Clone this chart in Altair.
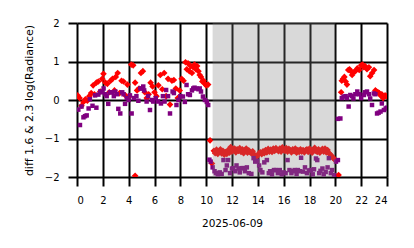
import altair as alt
import pandas as pd

# ---- data ----
red_t = [0.05, 0.2, 0.35, 0.5, 0.65, 0.8, 0.95, 1.1, 1.25, 1.35, 1.5, 1.65, 1.8, 1.95, 2.05, 2.2,
         2.35, 2.5, 2.6, 2.75, 2.9, 3.0, 3.15, 3.3, 3.45, 3.6, 3.75, 3.9, 4.05, 4.2, 4.35, 4.5,
         4.65, 4.8, 4.95, 5.1, 5.25, 5.4, 5.55, 5.7, 5.85, 6.0, 6.15, 6.3, 6.45, 6.6, 6.75, 6.9,
         7.05, 7.2, 7.35, 7.5, 7.65, 7.8, 7.95, 8.1, 8.25, 8.4, 8.5, 8.6, 8.7, 8.8, 8.9, 9.0,
         9.1, 9.2, 9.3, 9.4, 9.5, 9.6, 9.7, 9.8, 9.9, 10.0, 10.15,
         4.5, 10.3, 10.45,
         10.6, 10.7, 10.8, 10.9, 11.0, 11.1, 11.2, 11.3, 11.4, 11.5,
         11.6, 11.7, 11.8, 11.9, 12.0, 12.1, 12.2, 12.3, 12.4, 12.5,
         12.6, 12.7, 12.8, 12.9, 13.0, 13.1, 13.2, 13.3, 13.4, 13.5,
         13.6, 13.7, 13.8, 13.9, 14.0, 14.1, 14.2, 14.3, 14.4, 14.5,
         14.6, 14.7, 14.8, 14.9, 15.0, 15.1, 15.2, 15.3, 15.4, 15.5,
         15.6, 15.7, 15.8, 15.9, 16.0, 16.1, 16.2, 16.3, 16.4, 16.5,
         16.6, 16.7, 16.8, 16.9, 17.0, 17.1, 17.2, 17.3, 17.4, 17.5,
         17.6, 17.7, 17.8, 17.9, 18.0, 18.1, 18.2, 18.3, 18.4, 18.5,
         18.6, 18.7, 18.8, 18.9, 19.0, 19.1, 19.2, 19.3, 19.4, 19.5,
         19.6, 19.7, 19.8, 19.9, 20.0,
         20.25,
         20.45, 20.5, 20.6, 20.7, 20.8, 20.9, 21.0, 21.1, 21.2, 21.3, 21.4, 21.55, 21.7, 21.85,
         22.0, 22.1, 22.2, 22.3, 22.45, 22.6, 22.7, 22.85, 23.0, 23.1, 23.2, 23.3, 23.4, 23.5,
         23.6, 23.7, 23.85, 23.95]
red_v = [0.12, 0.05, -0.15, -0.05, 0.02, -0.02, 0.1, 0.18, 0.38, 0.15, 0.45, 0.48, 0.22, 0.55, 0.68, 0.45,
         0.42, 0.2, 0.5, 0.55, 0.25, 0.6, 0.7, 0.18, 0.5, 0.48, 0.12, 0.4, 0.1, 0.92, 0.9, 0.45,
         0.25, 0.3, 0.7, 0.75, 0.2, 0.05, 0.15, 0.45, 0.35, 0.2, 0.1, 0.38, 0.65, 0.28, 0.7, 0.1,
         0.55, -0.12, 0.5, 0.52, 0.3, 0.05, 0.25, 0.55, 0.5, 0.98, 0.8, 0.95, 0.75, 0.88, 0.7, 0.85,
         0.92, 0.8, 0.88, 0.75, 0.65, 0.6, 0.48, 0.5, 0.42, 0.38, 0.4,
         -1.97, -1.05, -1.65,
         -1.32, -1.38, -1.29, -1.40, -1.34, -1.28, -1.39, -1.32, -1.42, -1.35,
         -1.40, -1.30, -1.37, -1.22, -1.34, -1.29, -1.26, -1.36, -1.28, -1.32,
         -1.25, -1.35, -1.28, -1.38, -1.30, -1.26, -1.37, -1.31, -1.35, -1.39,
         -1.33, -1.41, -1.45, -1.48, -1.43, -1.38, -1.36, -1.41, -1.33, -1.38,
         -1.30, -1.36, -1.27, -1.34, -1.29, -1.35, -1.26, -1.32, -1.25, -1.30,
         -1.33, -1.26, -1.34, -1.23, -1.29, -1.32, -1.25, -1.34, -1.27, -1.30,
         -1.36, -1.28, -1.33, -1.26, -1.37, -1.30, -1.35, -1.28, -1.34, -1.30,
         -1.36, -1.30, -1.28, -1.35, -1.26, -1.33, -1.37, -1.29, -1.24, -1.32,
         -1.35, -1.28, -1.37, -1.31, -1.27, -1.34, -1.26, -1.36, -1.30, -1.38,
         -1.41, -1.45, -1.49, -1.53, -1.56,
         -1.95,
         0.2, 0.5, 0.55, 0.6, 0.48, 0.4, 0.78, 0.8, 0.75, 0.65, 0.72, 0.75, 0.82, 0.78,
         0.9, 0.92, 0.85, 0.88, 0.8, 0.85, 0.62, 0.7, 0.78, 0.25, 0.22, 0.2, 0.18, 0.12,
         0.15, 0.05, 0.12, 0.1]

purple_t = [0.1, 0.23, 0.35, 0.5, 0.62, 0.75, 0.9, 1.0, 1.2, 1.4, 1.5, 1.65, 1.8, 1.95, 2.06, 2.2,
            2.3, 2.42, 2.55, 2.7, 2.85, 2.96, 3.1, 3.2, 3.35, 3.5, 3.6, 3.72, 3.85, 4.0, 4.1, 4.23,
            4.4, 4.6, 4.75, 4.9, 5.0, 5.13, 5.2, 5.39, 5.5, 5.65, 5.8, 5.9, 6.1, 6.27, 6.5, 6.65,
            6.78, 6.9, 7.05, 7.2, 7.4, 7.5, 7.7, 7.85, 8.0, 8.2, 8.35, 8.48, 8.6, 8.74, 8.9, 9.0,
            9.1, 9.25, 9.4, 9.5, 9.6, 9.75, 9.9, 10.05, 10.16,
            10.25, 10.35, 10.5, 10.65, 10.75, 10.9, 11.05, 11.2, 11.34, 11.5, 11.6, 11.7, 11.85,
            12.0, 12.1, 12.25, 12.35, 12.5, 12.6, 12.75, 12.9, 13.0, 13.15, 13.3, 13.5, 13.67,
            13.8, 13.95, 14.1, 14.2, 14.35, 14.5, 14.7, 14.85, 14.95, 15.1, 15.25, 15.4, 15.55,
            15.7, 15.85, 16.0, 16.15, 16.3, 16.45, 16.6, 16.7, 16.85, 17.0, 17.1, 17.25, 17.35,
            17.5, 17.65, 17.8, 17.95, 18.1, 18.25, 18.35, 18.5, 18.6, 18.75, 18.85, 19.0, 19.1,
            19.25, 19.4, 19.5, 19.65, 19.75, 19.9, 20.05, 20.2,
            20.2, 20.39, 20.5, 20.64, 20.8, 20.9, 21.03, 21.16, 21.3, 21.4, 21.55, 21.7, 21.85,
            22.0, 22.2, 22.3, 22.45, 22.6, 22.7, 22.84, 22.98, 23.1, 23.23, 23.35, 23.5, 23.6,
            23.76, 23.9, 24.0]
purple_v = [-0.25, -0.65, -0.17, -0.45, -0.42, -0.4, -0.22, 0.02, -0.15, 0.12, -0.2, 0.14, 0.22, 0.2, 0.3, 0.15,
            0.1, -0.1, 0.2, 0.2, 0.1, 0.22, 0.15, -0.23, -0.35, 0.2, 0.15, -0.1, 0.05, 0.0, 0.12, -0.35,
            0.05, 0.1, -0.02, 0.3, 0.3, 0.35, 0.25, -0.04, 0.1, -0.26, 0.0, -0.04, 0.05, -0.04, -0.09, 0.1,
            -0.04, 0.26, 0.1, -0.35, 0.22, 0.18, -0.13, 0.0, 0.1, 0.09, -0.05, 0.39, 0.15, 0.13, 0.25, 0.3,
            0.32, 0.3, 0.28, 0.3, 0.22, 0.09, 0.0, -0.05, -0.13,
            -1.55, -1.6, -1.75, -1.85, -1.9, -1.93, -1.88, -1.92, -1.56, -1.82, -1.7, -1.56, -1.9,
            -1.78, -1.77, -1.85, -1.7, -1.78, -1.88, -1.77, -1.77, -1.85, -1.75, -1.9, -1.92, -1.51,
            -1.6, -1.58, -1.7, -1.82, -1.88, -1.62, -1.56, -1.9, -1.85, -1.93, -1.82, -1.82, -1.9,
            -1.82, -1.93, -1.88, -1.9, -1.56, -1.82, -1.9, -1.85, -1.82, -1.92, -1.82, -1.85, -1.5,
            -1.86, -1.75, -1.9, -1.83, -1.82, -1.93, -1.8, -1.52, -1.56, -1.9, -1.84, -1.78, -1.93,
            -1.87, -1.75, -1.51, -1.9, -1.82, -1.95, -1.6, -1.56,
            -0.49, -0.48, 0.05, 0.09, 0.1, 0.05, -0.17, 0.13, 0.1, 0.04, 0.15, 0.22, 0.15,
            0.05, 0.13, 0.2, 0.22, 0.15, 0.04, -0.13, 0.17, 0.15, -0.35, -0.33, -0.3, -0.09,
            -0.26, -0.22, -0.2]

shade_start = [10.5]
shade_end = [20.0]
shade_low = [-2.0]
shade_high = [2.0]

x_ticks = [0, 2, 4, 6, 8, 10, 12, 14, 16, 18, 20, 22, 24]
y_ticks = [-2, -1, 0, 1, 2]
x_title = "2025-06-09"
y_title = "diff 1.6 & 2.3  log(Radiance)"

red_df = pd.DataFrame({"t": red_t, "v": red_v})
purple_df = pd.DataFrame({"t": purple_t, "v": purple_v})
shade_df = pd.DataFrame({"x": shade_start, "x2": shade_end, "y": shade_low, "y2": shade_high})

xs = alt.Scale(domain=[0, 24], nice=False)
ys = alt.Scale(domain=[-2, 2], nice=False)
xax = alt.Axis(values=x_ticks, title=x_title)
yax = alt.Axis(values=y_ticks, title=y_title)

red = alt.Chart(red_df).mark_point(shape="diamond", filled=True, size=44, color="#ff0000",
                                   opacity=1, clip=True).encode(
    x=alt.X("t:Q", scale=xs, axis=xax),
    y=alt.Y("v:Q", scale=ys, axis=yax),
)
purple = alt.Chart(purple_df).mark_point(shape="square", filled=True, size=20, color="#800080",
                                         opacity=1, clip=True).encode(
    x=alt.X("t:Q", scale=xs, axis=xax),
    y=alt.Y("v:Q", scale=ys, axis=yax),
)
shade = alt.Chart(shade_df).mark_rect(color="#808080", opacity=0.3).encode(
    x=alt.X("x:Q", scale=xs, axis=xax),
    x2="x2:Q",
    y=alt.Y("y:Q", scale=ys, axis=yax),
    y2="y2:Q",
)

chart = alt.layer(red, purple, shade).properties(
    width=310, height=154,
    autosize=alt.AutoSizeParams(type="none"),
    padding={"left": 77, "top": 23, "right": 27, "bottom": 71},
).configure_view(stroke=None).configure_axis(
    grid=True, gridColor="#000000", gridWidth=2, gridOpacity=1,
    domain=False, ticks=True, tickColor="#000000", tickWidth=2, tickSize=9,
    labelFont="DejaVu Sans", labelFontSize=10, labelColor="#000000", labelPadding=9,
    titleFont="DejaVu Sans", titleFontWeight="normal", titleColor="#000000",
    zindex=1,
).configure_axisX(
    titleFontSize=10.5, titlePadding=13,
).configure_axisY(
    titleFontSize=11, titlePadding=10,
)

chart.save("out.html", embed_options={"renderer": "svg", "actions": False})
